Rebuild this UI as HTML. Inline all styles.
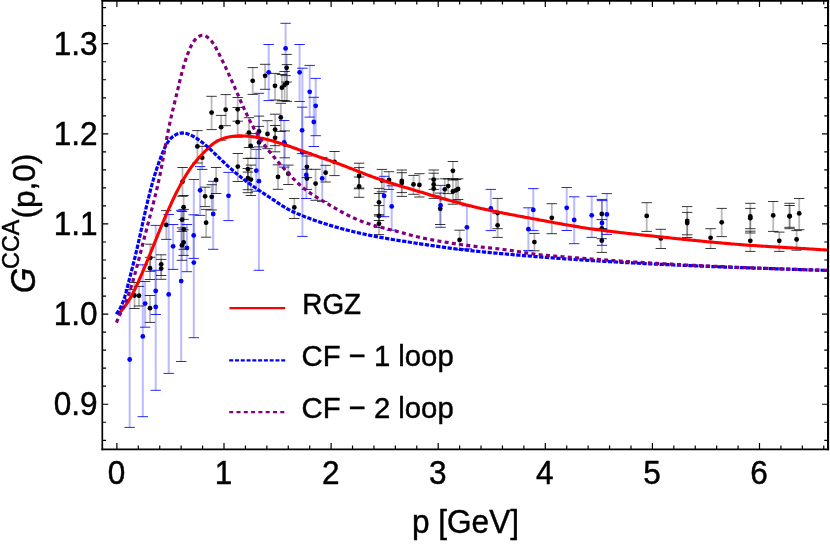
<!DOCTYPE html>
<html><head><meta charset="utf-8"><title>plot</title>
<style>html,body{margin:0;padding:0;background:#fff}svg{display:block}text{font-family:"Liberation Sans",sans-serif;fill:#000;stroke:#000;stroke-width:0.45px;stroke-linejoin:round}</style></head><body>
<div style="width:830px;height:545px;will-change:transform;overflow:hidden">
<svg width="830" height="545" viewBox="0 0 830 545">
<defs><clipPath id="c"><rect x="102.3" y="0" width="725.75" height="449.35"/></clipPath></defs>
<g clip-path="url(#c)">
<g stroke="#000" stroke-opacity="0.28" stroke-width="1.8" fill="none">
<path d="M286.6,54.4V82.0"/>
<path d="M265.1,64.3V89.3"/>
<path d="M252.7,67.6V94.4"/>
<path d="M275.0,73.4V100.0"/>
<path d="M281.9,74.5V100.9"/>
<path d="M284.6,71.5V100.6"/>
<path d="M287.0,64.6V101.4"/>
<path d="M280.8,103.3V131.4"/>
<path d="M249.0,117.7V147.5"/>
<path d="M259.0,116.1V146.9"/>
<path d="M267.5,120.7V148.7"/>
<path d="M275.1,114.2V145.7"/>
<path d="M275.1,125.5V151.8"/>
<path d="M259.0,126.4V158.4"/>
<path d="M250.7,133.6V158.3"/>
<path d="M247.9,158.4V179.8"/>
<path d="M247.9,168.5V189.7"/>
<path d="M250.9,165.1V195.5"/>
<path d="M247.9,172.1V192.7"/>
<path d="M306.9,156.0V177.6"/>
<path d="M325.6,165.3V182.0"/>
<path d="M288.3,165.1V184.5"/>
<path d="M278.0,164.8V189.3"/>
<path d="M284.8,130.9V157.8"/>
<path d="M294.3,198.5V218.5"/>
<path d="M306.9,169.3V189.4"/>
<path d="M315.6,169.3V200.3"/>
<path d="M334.5,151.5V175.6"/>
<path d="M211.6,96.3V129.6"/>
<path d="M225.7,94.6V125.7"/>
<path d="M221.1,115.4V140.2"/>
<path d="M237.7,97.5V121.2"/>
<path d="M237.7,107.5V137.1"/>
<path d="M197.4,130.6V163.0"/>
<path d="M202.2,146.3V169.4"/>
<path d="M182.5,167.5V196.3"/>
<path d="M216.1,167.5V193.5"/>
<path d="M205.1,187.2V206.6"/>
<path d="M211.7,184.7V210.0"/>
<path d="M237.8,153.5V181.5"/>
<path d="M183.6,195.5V219.4"/>
<path d="M206.1,209.4V237.2"/>
<path d="M182.1,211.5V227.9"/>
<path d="M183.7,209.4V249.3"/>
<path d="M183.6,229.8V255.4"/>
<path d="M181.9,231.4V260.3"/>
<path d="M166.3,210.6V239.4"/>
<path d="M161.2,254.8V275.5"/>
<path d="M161.2,259.4V279.3"/>
<path d="M150.0,257.3V279.5"/>
<path d="M150.3,244.2V271.3"/>
<path d="M139.0,286.4V306.0"/>
<path d="M134.5,282.5V308.5"/>
<path d="M150.0,295.5V322.4"/>
<path d="M359.1,163.2V188.8"/>
<path d="M359.1,167.6V188.0"/>
<path d="M359.1,177.0V197.3"/>
<path d="M381.9,169.4V191.8"/>
<path d="M389.0,171.7V189.4"/>
<path d="M379.0,188.4V216.0"/>
<path d="M379.0,193.5V220.5"/>
<path d="M379.0,205.6V227.4"/>
<path d="M379.0,214.7V234.6"/>
<path d="M401.8,172.7V192.6"/>
<path d="M401.8,170.0V196.4"/>
<path d="M413.5,175.4V194.3"/>
<path d="M419.4,173.7V197.0"/>
<path d="M433.7,170.0V189.4"/>
<path d="M433.7,173.2V195.8"/>
<path d="M433.7,179.0V198.4"/>
<path d="M444.8,178.8V199.8"/>
<path d="M448.2,178.8V193.6"/>
<path d="M452.9,161.5V180.0"/>
<path d="M452.9,178.8V204.2"/>
<path d="M456.0,179.5V201.0"/>
<path d="M458.1,178.8V199.5"/>
<path d="M440.2,193.1V224.5"/>
<path d="M459.6,230.2V249.7"/>
<path d="M497.6,198.4V228.7"/>
<path d="M497.6,213.3V237.4"/>
<path d="M534.4,233.4V250.8"/>
<path d="M551.8,203.7V233.7"/>
<path d="M601.8,199.4V228.5"/>
<path d="M601.8,219.6V238.7"/>
<path d="M601.8,229.5V252.4"/>
<path d="M646.7,202.7V231.4"/>
<path d="M660.8,229.3V248.5"/>
<path d="M687.2,206.6V234.8"/>
<path d="M687.2,212.4V237.5"/>
<path d="M710.6,228.7V248.5"/>
<path d="M721.7,208.4V236.6"/>
<path d="M750.3,203.3V228.7"/>
<path d="M750.3,208.4V233.0"/>
<path d="M750.3,231.2V251.4"/>
<path d="M773.2,201.5V231.4"/>
<path d="M779.3,232.1V251.4"/>
<path d="M789.6,203.3V228.7"/>
<path d="M789.6,205.5V227.3"/>
<path d="M799.2,198.5V229.7"/>
<path d="M796.6,230.6V250.2"/>
</g>
<g stroke="#000" stroke-opacity="0.78" stroke-width="1" fill="none">
<path d="M281.4,54.4h10.4M281.4,82.0h10.4"/>
<path d="M259.9,64.3h10.4M259.9,89.3h10.4"/>
<path d="M247.5,67.6h10.4M247.5,94.4h10.4"/>
<path d="M269.8,73.4h10.4M269.8,100.0h10.4"/>
<path d="M276.7,74.5h10.4M276.7,100.9h10.4"/>
<path d="M279.4,71.5h10.4M279.4,100.6h10.4"/>
<path d="M281.8,64.6h10.4M281.8,101.4h10.4"/>
<path d="M275.6,103.3h10.4M275.6,131.4h10.4"/>
<path d="M243.8,117.7h10.4M243.8,147.5h10.4"/>
<path d="M253.8,116.1h10.4M253.8,146.9h10.4"/>
<path d="M262.3,120.7h10.4M262.3,148.7h10.4"/>
<path d="M269.9,114.2h10.4M269.9,145.7h10.4"/>
<path d="M269.9,125.5h10.4M269.9,151.8h10.4"/>
<path d="M253.8,126.4h10.4M253.8,158.4h10.4"/>
<path d="M245.5,133.6h10.4M245.5,158.3h10.4"/>
<path d="M242.7,158.4h10.4M242.7,179.8h10.4"/>
<path d="M242.7,168.5h10.4M242.7,189.7h10.4"/>
<path d="M245.7,165.1h10.4M245.7,195.5h10.4"/>
<path d="M242.7,172.1h10.4M242.7,192.7h10.4"/>
<path d="M301.7,156.0h10.4M301.7,177.6h10.4"/>
<path d="M320.4,165.3h10.4M320.4,182.0h10.4"/>
<path d="M283.1,165.1h10.4M283.1,184.5h10.4"/>
<path d="M272.8,164.8h10.4M272.8,189.3h10.4"/>
<path d="M279.6,130.9h10.4M279.6,157.8h10.4"/>
<path d="M289.1,198.5h10.4M289.1,218.5h10.4"/>
<path d="M301.7,169.3h10.4M301.7,189.4h10.4"/>
<path d="M310.4,169.3h10.4M310.4,200.3h10.4"/>
<path d="M329.3,151.5h10.4M329.3,175.6h10.4"/>
<path d="M206.4,96.3h10.4M206.4,129.6h10.4"/>
<path d="M220.5,94.6h10.4M220.5,125.7h10.4"/>
<path d="M215.9,115.4h10.4M215.9,140.2h10.4"/>
<path d="M232.5,97.5h10.4M232.5,121.2h10.4"/>
<path d="M232.5,107.5h10.4M232.5,137.1h10.4"/>
<path d="M192.2,130.6h10.4M192.2,163.0h10.4"/>
<path d="M197.0,146.3h10.4M197.0,169.4h10.4"/>
<path d="M177.3,167.5h10.4M177.3,196.3h10.4"/>
<path d="M210.9,167.5h10.4M210.9,193.5h10.4"/>
<path d="M199.9,187.2h10.4M199.9,206.6h10.4"/>
<path d="M206.5,184.7h10.4M206.5,210.0h10.4"/>
<path d="M232.6,153.5h10.4M232.6,181.5h10.4"/>
<path d="M178.4,195.5h10.4M178.4,219.4h10.4"/>
<path d="M200.9,209.4h10.4M200.9,237.2h10.4"/>
<path d="M176.9,211.5h10.4M176.9,227.9h10.4"/>
<path d="M178.5,209.4h10.4M178.5,249.3h10.4"/>
<path d="M178.4,229.8h10.4M178.4,255.4h10.4"/>
<path d="M176.7,231.4h10.4M176.7,260.3h10.4"/>
<path d="M161.1,210.6h10.4M161.1,239.4h10.4"/>
<path d="M156.0,254.8h10.4M156.0,275.5h10.4"/>
<path d="M156.0,259.4h10.4M156.0,279.3h10.4"/>
<path d="M144.8,257.3h10.4M144.8,279.5h10.4"/>
<path d="M145.1,244.2h10.4M145.1,271.3h10.4"/>
<path d="M133.8,286.4h10.4M133.8,306.0h10.4"/>
<path d="M129.3,282.5h10.4M129.3,308.5h10.4"/>
<path d="M144.8,295.5h10.4M144.8,322.4h10.4"/>
<path d="M353.9,163.2h10.4M353.9,188.8h10.4"/>
<path d="M353.9,167.6h10.4M353.9,188.0h10.4"/>
<path d="M353.9,177.0h10.4M353.9,197.3h10.4"/>
<path d="M376.7,169.4h10.4M376.7,191.8h10.4"/>
<path d="M383.8,171.7h10.4M383.8,189.4h10.4"/>
<path d="M373.8,188.4h10.4M373.8,216.0h10.4"/>
<path d="M373.8,193.5h10.4M373.8,220.5h10.4"/>
<path d="M373.8,205.6h10.4M373.8,227.4h10.4"/>
<path d="M373.8,214.7h10.4M373.8,234.6h10.4"/>
<path d="M396.6,172.7h10.4M396.6,192.6h10.4"/>
<path d="M396.6,170.0h10.4M396.6,196.4h10.4"/>
<path d="M408.3,175.4h10.4M408.3,194.3h10.4"/>
<path d="M414.2,173.7h10.4M414.2,197.0h10.4"/>
<path d="M428.5,170.0h10.4M428.5,189.4h10.4"/>
<path d="M428.5,173.2h10.4M428.5,195.8h10.4"/>
<path d="M428.5,179.0h10.4M428.5,198.4h10.4"/>
<path d="M439.6,178.8h10.4M439.6,199.8h10.4"/>
<path d="M443.0,178.8h10.4M443.0,193.6h10.4"/>
<path d="M447.7,161.5h10.4M447.7,180.0h10.4"/>
<path d="M447.7,178.8h10.4M447.7,204.2h10.4"/>
<path d="M450.8,179.5h10.4M450.8,201.0h10.4"/>
<path d="M452.9,178.8h10.4M452.9,199.5h10.4"/>
<path d="M435.0,193.1h10.4M435.0,224.5h10.4"/>
<path d="M454.4,230.2h10.4M454.4,249.7h10.4"/>
<path d="M492.4,198.4h10.4M492.4,228.7h10.4"/>
<path d="M492.4,213.3h10.4M492.4,237.4h10.4"/>
<path d="M529.2,233.4h10.4M529.2,250.8h10.4"/>
<path d="M546.6,203.7h10.4M546.6,233.7h10.4"/>
<path d="M596.6,199.4h10.4M596.6,228.5h10.4"/>
<path d="M596.6,219.6h10.4M596.6,238.7h10.4"/>
<path d="M596.6,229.5h10.4M596.6,252.4h10.4"/>
<path d="M641.5,202.7h10.4M641.5,231.4h10.4"/>
<path d="M655.6,229.3h10.4M655.6,248.5h10.4"/>
<path d="M682.0,206.6h10.4M682.0,234.8h10.4"/>
<path d="M682.0,212.4h10.4M682.0,237.5h10.4"/>
<path d="M705.4,228.7h10.4M705.4,248.5h10.4"/>
<path d="M716.5,208.4h10.4M716.5,236.6h10.4"/>
<path d="M745.1,203.3h10.4M745.1,228.7h10.4"/>
<path d="M745.1,208.4h10.4M745.1,233.0h10.4"/>
<path d="M745.1,231.2h10.4M745.1,251.4h10.4"/>
<path d="M768.0,201.5h10.4M768.0,231.4h10.4"/>
<path d="M774.1,232.1h10.4M774.1,251.4h10.4"/>
<path d="M784.4,203.3h10.4M784.4,228.7h10.4"/>
<path d="M784.4,205.5h10.4M784.4,227.3h10.4"/>
<path d="M794.0,198.5h10.4M794.0,229.7h10.4"/>
<path d="M791.4,230.6h10.4M791.4,250.2h10.4"/>
</g>
<g fill="#000">
<circle cx="286.6" cy="67.8" r="2.4"/>
<circle cx="265.1" cy="75.8" r="2.4"/>
<circle cx="252.7" cy="80.8" r="2.4"/>
<circle cx="275.0" cy="85.8" r="2.4"/>
<circle cx="281.9" cy="87.7" r="2.4"/>
<circle cx="284.6" cy="85.0" r="2.4"/>
<circle cx="287.0" cy="83.0" r="2.4"/>
<circle cx="280.8" cy="117.4" r="2.4"/>
<circle cx="249.0" cy="132.6" r="2.4"/>
<circle cx="259.0" cy="131.5" r="2.4"/>
<circle cx="267.5" cy="133.9" r="2.4"/>
<circle cx="275.1" cy="129.6" r="2.4"/>
<circle cx="275.1" cy="137.8" r="2.4"/>
<circle cx="259.0" cy="142.4" r="2.4"/>
<circle cx="250.7" cy="146.0" r="2.4"/>
<circle cx="247.9" cy="169.1" r="2.4"/>
<circle cx="247.9" cy="178.2" r="2.4"/>
<circle cx="250.9" cy="179.6" r="2.4"/>
<circle cx="306.9" cy="166.8" r="2.4"/>
<circle cx="325.6" cy="172.7" r="2.4"/>
<circle cx="288.3" cy="173.7" r="2.4"/>
<circle cx="278.0" cy="176.9" r="2.4"/>
<circle cx="284.8" cy="144.4" r="2.4"/>
<circle cx="294.3" cy="207.4" r="2.4"/>
<circle cx="306.9" cy="178.5" r="2.4"/>
<circle cx="315.6" cy="183.6" r="2.4"/>
<circle cx="334.5" cy="161.8" r="2.4"/>
<circle cx="211.6" cy="112.6" r="2.4"/>
<circle cx="225.7" cy="109.7" r="2.4"/>
<circle cx="221.1" cy="127.2" r="2.4"/>
<circle cx="237.7" cy="109.3" r="2.4"/>
<circle cx="237.7" cy="122.2" r="2.4"/>
<circle cx="197.4" cy="146.4" r="2.4"/>
<circle cx="202.2" cy="157.7" r="2.4"/>
<circle cx="182.5" cy="181.7" r="2.4"/>
<circle cx="216.1" cy="180.0" r="2.4"/>
<circle cx="205.1" cy="196.3" r="2.4"/>
<circle cx="211.7" cy="196.8" r="2.4"/>
<circle cx="237.8" cy="166.6" r="2.4"/>
<circle cx="183.6" cy="207.2" r="2.4"/>
<circle cx="206.1" cy="222.7" r="2.4"/>
<circle cx="182.1" cy="219.7" r="2.4"/>
<circle cx="183.7" cy="229.3" r="2.4"/>
<circle cx="183.6" cy="242.5" r="2.4"/>
<circle cx="181.9" cy="245.4" r="2.4"/>
<circle cx="166.3" cy="224.9" r="2.4"/>
<circle cx="161.2" cy="264.3" r="2.4"/>
<circle cx="161.2" cy="268.6" r="2.4"/>
<circle cx="150.0" cy="268.2" r="2.4"/>
<circle cx="150.3" cy="257.8" r="2.4"/>
<circle cx="139.0" cy="295.7" r="2.4"/>
<circle cx="134.5" cy="295.5" r="2.4"/>
<circle cx="150.0" cy="308.2" r="2.4"/>
<circle cx="359.1" cy="176.0" r="2.4"/>
<circle cx="359.1" cy="186.4" r="2.4"/>
<circle cx="381.9" cy="180.6" r="2.4"/>
<circle cx="389.0" cy="180.0" r="2.4"/>
<circle cx="379.0" cy="202.3" r="2.4"/>
<circle cx="379.0" cy="215.9" r="2.4"/>
<circle cx="379.0" cy="223.7" r="2.4"/>
<circle cx="401.8" cy="181.0" r="2.4"/>
<circle cx="401.8" cy="183.0" r="2.4"/>
<circle cx="413.5" cy="184.4" r="2.4"/>
<circle cx="419.4" cy="184.9" r="2.4"/>
<circle cx="433.7" cy="179.7" r="2.4"/>
<circle cx="433.7" cy="184.5" r="2.4"/>
<circle cx="433.7" cy="188.7" r="2.4"/>
<circle cx="444.8" cy="189.3" r="2.4"/>
<circle cx="448.2" cy="186.1" r="2.4"/>
<circle cx="452.9" cy="170.8" r="2.4"/>
<circle cx="452.9" cy="191.5" r="2.4"/>
<circle cx="456.0" cy="190.3" r="2.4"/>
<circle cx="458.1" cy="189.0" r="2.4"/>
<circle cx="440.2" cy="208.8" r="2.4"/>
<circle cx="459.6" cy="239.9" r="2.4"/>
<circle cx="497.6" cy="213.0" r="2.4"/>
<circle cx="497.6" cy="225.3" r="2.4"/>
<circle cx="534.4" cy="242.1" r="2.4"/>
<circle cx="551.8" cy="217.8" r="2.4"/>
<circle cx="601.8" cy="214.0" r="2.4"/>
<circle cx="601.8" cy="228.3" r="2.4"/>
<circle cx="601.8" cy="240.7" r="2.4"/>
<circle cx="646.7" cy="215.9" r="2.4"/>
<circle cx="660.8" cy="238.4" r="2.4"/>
<circle cx="687.2" cy="221.0" r="2.4"/>
<circle cx="687.2" cy="223.0" r="2.4"/>
<circle cx="710.6" cy="237.8" r="2.4"/>
<circle cx="721.7" cy="222.3" r="2.4"/>
<circle cx="750.3" cy="216.4" r="2.4"/>
<circle cx="750.3" cy="218.2" r="2.4"/>
<circle cx="750.3" cy="240.8" r="2.4"/>
<circle cx="773.2" cy="215.4" r="2.4"/>
<circle cx="779.3" cy="240.8" r="2.4"/>
<circle cx="789.6" cy="216.0" r="2.4"/>
<circle cx="789.6" cy="216.3" r="2.4"/>
<circle cx="799.2" cy="213.4" r="2.4"/>
<circle cx="796.6" cy="239.4" r="2.4"/>
</g>
<g stroke="#0000ff" stroke-opacity="0.27" stroke-width="2.0" fill="none">
<path d="M129.7,289.6V427.4"/>
<path d="M142.8,264.8V416.7"/>
<path d="M145.1,281.5V327.2"/>
<path d="M155.7,270.3V314.5"/>
<path d="M155.7,225.4V390.3"/>
<path d="M168.7,214.5V373.4"/>
<path d="M173.1,224.5V269.4"/>
<path d="M181.2,210.3V361.5"/>
<path d="M186.9,224.5V271.7"/>
<path d="M193.7,214.8V258.4"/>
<path d="M193.8,179.5V337.7"/>
<path d="M200.1,166.6V215.4"/>
<path d="M213.2,181.3V249.3"/>
<path d="M228.5,172.4V220.6"/>
<path d="M256.3,149.3V191.2"/>
<path d="M258.9,93.3V270.3"/>
<path d="M268.7,44.5V100.6"/>
<path d="M284.2,120.5V167.1"/>
<path d="M285.6,23.3V75.6"/>
<path d="M299.6,44.5V101.5"/>
<path d="M302.1,107.2V153.6"/>
<path d="M302.4,68.2V236.4"/>
<path d="M306.3,152.5V198.5"/>
<path d="M309.7,65.4V117.1"/>
<path d="M313.8,97.3V146.5"/>
<path d="M315.7,78.4V135.7"/>
<path d="M322.2,157.5V201.4"/>
<path d="M384.1,176.3V216.7"/>
<path d="M391.7,185.8V230.2"/>
<path d="M440.6,185.4V227.3"/>
<path d="M466.9,205.8V248.8"/>
<path d="M490.8,189.4V230.6"/>
<path d="M528.4,207.8V250.6"/>
<path d="M533.3,188.6V230.6"/>
<path d="M566.7,187.5V230.5"/>
<path d="M574.2,196.8V243.7"/>
<path d="M591.7,196.3V237.4"/>
<path d="M606.9,193.6V234.4"/>
<path d="M602.0,200.6V245.3"/>
</g>
<g stroke="#0000ff" stroke-opacity="0.85" stroke-width="1" fill="none">
<path d="M124.5,289.6h10.4M124.5,427.4h10.4"/>
<path d="M137.6,264.8h10.4M137.6,416.7h10.4"/>
<path d="M139.9,281.5h10.4M139.9,327.2h10.4"/>
<path d="M150.5,270.3h10.4M150.5,314.5h10.4"/>
<path d="M150.5,225.4h10.4M150.5,390.3h10.4"/>
<path d="M163.5,214.5h10.4M163.5,373.4h10.4"/>
<path d="M167.9,224.5h10.4M167.9,269.4h10.4"/>
<path d="M176.0,210.3h10.4M176.0,361.5h10.4"/>
<path d="M181.7,224.5h10.4M181.7,271.7h10.4"/>
<path d="M188.5,214.8h10.4M188.5,258.4h10.4"/>
<path d="M188.6,179.5h10.4M188.6,337.7h10.4"/>
<path d="M194.9,166.6h10.4M194.9,215.4h10.4"/>
<path d="M208.0,181.3h10.4M208.0,249.3h10.4"/>
<path d="M223.3,172.4h10.4M223.3,220.6h10.4"/>
<path d="M251.1,149.3h10.4M251.1,191.2h10.4"/>
<path d="M253.7,93.3h10.4M253.7,270.3h10.4"/>
<path d="M263.5,44.5h10.4M263.5,100.6h10.4"/>
<path d="M279.0,120.5h10.4M279.0,167.1h10.4"/>
<path d="M280.4,23.3h10.4M280.4,75.6h10.4"/>
<path d="M294.4,44.5h10.4M294.4,101.5h10.4"/>
<path d="M296.9,107.2h10.4M296.9,153.6h10.4"/>
<path d="M297.2,68.2h10.4M297.2,236.4h10.4"/>
<path d="M301.1,152.5h10.4M301.1,198.5h10.4"/>
<path d="M304.5,65.4h10.4M304.5,117.1h10.4"/>
<path d="M308.6,97.3h10.4M308.6,146.5h10.4"/>
<path d="M310.5,78.4h10.4M310.5,135.7h10.4"/>
<path d="M317.0,157.5h10.4M317.0,201.4h10.4"/>
<path d="M378.9,176.3h10.4M378.9,216.7h10.4"/>
<path d="M386.5,185.8h10.4M386.5,230.2h10.4"/>
<path d="M435.4,185.4h10.4M435.4,227.3h10.4"/>
<path d="M461.7,205.8h10.4M461.7,248.8h10.4"/>
<path d="M485.6,189.4h10.4M485.6,230.6h10.4"/>
<path d="M523.2,207.8h10.4M523.2,250.6h10.4"/>
<path d="M528.1,188.6h10.4M528.1,230.6h10.4"/>
<path d="M561.5,187.5h10.4M561.5,230.5h10.4"/>
<path d="M569.0,196.8h10.4M569.0,243.7h10.4"/>
<path d="M586.5,196.3h10.4M586.5,237.4h10.4"/>
<path d="M601.7,193.6h10.4M601.7,234.4h10.4"/>
<path d="M596.8,200.6h10.4M596.8,245.3h10.4"/>
</g>
<g fill="#0000ff">
<circle cx="129.7" cy="359.5" r="2.4"/>
<circle cx="142.8" cy="336.4" r="2.4"/>
<circle cx="145.1" cy="303.6" r="2.4"/>
<circle cx="155.7" cy="290.9" r="2.4"/>
<circle cx="155.7" cy="306.9" r="2.4"/>
<circle cx="168.7" cy="294.4" r="2.4"/>
<circle cx="173.1" cy="246.3" r="2.4"/>
<circle cx="181.2" cy="281.1" r="2.4"/>
<circle cx="186.9" cy="247.9" r="2.4"/>
<circle cx="193.7" cy="235.4" r="2.4"/>
<circle cx="193.8" cy="262.6" r="2.4"/>
<circle cx="200.1" cy="190.3" r="2.4"/>
<circle cx="213.2" cy="214.0" r="2.4"/>
<circle cx="228.5" cy="195.8" r="2.4"/>
<circle cx="256.3" cy="170.6" r="2.4"/>
<circle cx="258.9" cy="181.2" r="2.4"/>
<circle cx="268.7" cy="72.3" r="2.4"/>
<circle cx="284.2" cy="142.5" r="2.4"/>
<circle cx="285.6" cy="48.4" r="2.4"/>
<circle cx="299.6" cy="72.3" r="2.4"/>
<circle cx="302.1" cy="130.3" r="2.4"/>
<circle cx="302.4" cy="152.4" r="2.4"/>
<circle cx="306.3" cy="174.9" r="2.4"/>
<circle cx="309.7" cy="91.8" r="2.4"/>
<circle cx="313.8" cy="122.0" r="2.4"/>
<circle cx="315.7" cy="105.8" r="2.4"/>
<circle cx="322.2" cy="178.4" r="2.4"/>
<circle cx="384.1" cy="195.9" r="2.4"/>
<circle cx="391.7" cy="206.4" r="2.4"/>
<circle cx="440.6" cy="205.4" r="2.4"/>
<circle cx="466.9" cy="227.3" r="2.4"/>
<circle cx="490.8" cy="208.5" r="2.4"/>
<circle cx="528.4" cy="229.2" r="2.4"/>
<circle cx="533.3" cy="209.9" r="2.4"/>
<circle cx="566.7" cy="207.8" r="2.4"/>
<circle cx="574.2" cy="219.9" r="2.4"/>
<circle cx="591.7" cy="215.3" r="2.4"/>
<circle cx="606.9" cy="214.4" r="2.4"/>
<circle cx="602.0" cy="222.9" r="2.4"/>
</g>
<path d="M118.08,314.12 L119.27,312.94 L120.42,311.73 L121.54,310.49 L122.61,309.23 L123.66,307.94 L124.67,306.63 L125.64,305.30 L126.59,303.95 L127.51,302.58 L128.40,301.20 L129.27,299.79 L130.11,298.37 L130.93,296.93 L131.73,295.48 L132.51,294.02 L133.27,292.55 L134.01,291.06 L134.75,289.57 L135.46,288.07 L136.17,286.57 L136.87,285.06 L137.56,283.54 L138.24,282.02 L138.91,280.50 L139.58,278.98 L140.25,277.46 L140.92,275.93 L141.58,274.41 L142.23,272.88 L142.88,271.35 L143.53,269.82 L144.18,268.29 L144.82,266.76 L145.46,265.23 L146.10,263.70 L146.73,262.17 L147.37,260.64 L148.00,259.10 L148.63,257.57 L149.25,256.03 L149.88,254.50 L150.50,252.96 L151.13,251.43 L151.75,249.89 L152.37,248.35 L152.99,246.82 L153.61,245.28 L154.23,243.75 L154.85,242.21 L155.47,240.67 L156.09,239.14 L156.71,237.60 L157.33,236.06 L157.96,234.53 L158.58,232.99 L159.20,231.46 L159.83,229.92 L160.46,228.39 L161.09,226.86 L161.72,225.33 L162.36,223.79 L163.00,222.26 L163.64,220.74 L164.28,219.21 L164.93,217.68 L165.58,216.16 L166.23,214.63 L166.89,213.11 L167.56,211.59 L168.22,210.08 L168.90,208.56 L169.57,207.05 L170.26,205.54 L170.95,204.03 L171.64,202.52 L172.34,201.02 L173.05,199.52 L173.76,198.02 L174.48,196.52 L175.21,195.03 L175.94,193.54 L176.69,192.06 L177.43,190.57 L178.19,189.09 L178.96,187.62 L179.73,186.15 L180.52,184.68 L181.31,183.22 L182.12,181.77 L182.94,180.32 L183.76,178.89 L184.61,177.46 L185.46,176.03 L186.33,174.62 L187.22,173.22 L188.11,171.83 L189.03,170.45 L189.96,169.08 L190.91,167.73 L191.88,166.39 L192.86,165.06 L193.86,163.74 L194.88,162.45 L195.93,161.16 L196.99,159.90 L198.07,158.64 L199.18,157.41 L200.30,156.19 L201.43,154.98 L202.58,153.78 L203.74,152.59 L204.92,151.40 L206.10,150.23 L207.29,149.06 L208.49,147.89 L209.70,146.74 L210.93,145.62 L212.20,144.54 L213.50,143.52 L214.85,142.56 L216.26,141.68 L217.70,140.86 L219.19,140.12 L220.70,139.45 L222.24,138.84 L223.80,138.30 L225.37,137.82 L226.96,137.40 L228.57,137.03 L230.19,136.72 L231.82,136.46 L233.46,136.26 L235.11,136.10 L236.76,135.99 L238.42,135.92 L240.09,135.89 L241.76,135.90 L243.43,135.94 L245.10,136.02 L246.77,136.13 L248.43,136.28 L250.10,136.44 L251.75,136.64 L253.40,136.85 L255.05,137.09 L256.69,137.36 L258.32,137.64 L259.95,137.94 L261.58,138.26 L263.20,138.61 L264.81,138.97 L266.42,139.34 L268.03,139.74 L269.63,140.15 L271.23,140.57 L272.82,141.01 L274.41,141.46 L276.00,141.93 L277.58,142.41 L279.16,142.90 L280.74,143.40 L282.32,143.91 L283.89,144.42 L285.46,144.95 L287.03,145.49 L288.60,146.03 L290.17,146.57 L291.73,147.13 L293.30,147.68 L294.86,148.24 L296.42,148.81 L297.98,149.37 L299.55,149.94 L301.11,150.51 L302.67,151.08 L304.23,151.64 L305.79,152.21 L307.35,152.77 L308.92,153.33 L310.48,153.89 L312.04,154.44 L313.61,154.99 L315.18,155.54 L316.74,156.08 L318.31,156.62 L319.88,157.16 L321.44,157.70 L323.01,158.24 L324.58,158.78 L326.14,159.32 L327.71,159.87 L329.27,160.41 L330.84,160.96 L332.40,161.52 L333.96,162.07 L335.52,162.64 L337.07,163.20 L338.63,163.78 L340.18,164.36 L341.73,164.95 L343.28,165.54 L344.83,166.13 L346.38,166.74 L347.92,167.34 L349.46,167.95 L351.01,168.56 L352.55,169.17 L354.09,169.78 L355.64,170.39 L357.18,171.00 L358.73,171.61 L360.27,172.22 L361.82,172.82 L363.36,173.42 L364.91,174.01 L366.46,174.60 L368.02,175.18 L369.57,175.76 L371.13,176.33 L372.69,176.89 L374.25,177.45 L375.81,178.00 L377.38,178.55 L378.95,179.09 L380.52,179.63 L382.09,180.16 L383.66,180.68 L385.23,181.20 L386.81,181.72 L388.39,182.23 L389.97,182.74 L391.55,183.24 L393.13,183.74 L394.71,184.24 L396.29,184.73 L397.88,185.22 L399.46,185.71 L401.05,186.19 L402.64,186.68 L404.22,187.16 L405.81,187.64 L407.40,188.11 L408.99,188.59 L410.58,189.06 L412.17,189.53 L413.76,190.00 L415.35,190.47 L416.95,190.94 L418.54,191.41 L420.13,191.88 L421.72,192.35 L423.31,192.82 L424.90,193.29 L426.49,193.75 L428.09,194.22 L429.68,194.69 L431.27,195.15 L432.86,195.62 L434.46,196.08 L436.05,196.55 L437.64,197.01 L439.24,197.47 L440.83,197.92 L442.42,198.38 L444.02,198.83 L445.62,199.28 L447.21,199.73 L448.81,200.18 L450.41,200.63 L452.00,201.07 L453.60,201.51 L455.20,201.94 L456.80,202.38 L458.40,202.81 L460.01,203.23 L461.61,203.65 L463.21,204.07 L464.82,204.49 L466.42,204.90 L468.03,205.31 L469.64,205.71 L471.24,206.11 L472.85,206.50 L474.47,206.89 L476.08,207.28 L477.69,207.66 L479.31,208.03 L480.92,208.41 L482.54,208.77 L484.16,209.13 L485.78,209.49 L487.40,209.84 L489.02,210.19 L490.64,210.53 L492.26,210.87 L493.89,211.21 L495.51,211.55 L497.14,211.88 L498.76,212.20 L500.39,212.53 L502.02,212.85 L503.65,213.17 L505.28,213.49 L506.91,213.80 L508.54,214.12 L510.17,214.43 L511.80,214.74 L513.43,215.05 L515.06,215.35 L516.69,215.66 L518.32,215.97 L519.95,216.27 L521.59,216.57 L523.22,216.88 L524.85,217.18 L526.48,217.49 L528.11,217.79 L529.74,218.09 L531.38,218.40 L533.01,218.70 L534.64,219.01 L536.27,219.31 L537.90,219.62 L539.53,219.92 L541.16,220.23 L542.79,220.53 L544.42,220.84 L546.05,221.14 L547.69,221.44 L549.32,221.75 L550.95,222.05 L552.58,222.35 L554.21,222.65 L555.84,222.94 L557.47,223.24 L559.10,223.54 L560.74,223.83 L562.37,224.12 L564.00,224.41 L565.63,224.70 L567.27,224.98 L568.90,225.26 L570.53,225.54 L572.17,225.82 L573.80,226.10 L575.44,226.37 L577.07,226.64 L578.71,226.90 L580.35,227.17 L581.98,227.43 L583.62,227.68 L585.26,227.94 L586.90,228.19 L588.54,228.43 L590.18,228.67 L591.82,228.91 L593.46,229.15 L595.10,229.38 L596.74,229.60 L598.39,229.83 L600.03,230.05 L601.67,230.27 L603.32,230.48 L604.96,230.69 L606.61,230.90 L608.26,231.11 L609.90,231.31 L611.55,231.51 L613.19,231.71 L614.84,231.91 L616.49,232.10 L618.14,232.30 L619.79,232.49 L621.43,232.68 L623.08,232.86 L624.73,233.05 L626.38,233.23 L628.03,233.42 L629.68,233.60 L631.33,233.78 L632.98,233.96 L634.63,234.14 L636.28,234.31 L637.93,234.49 L639.58,234.67 L641.23,234.84 L642.88,235.02 L644.53,235.19 L646.18,235.37 L647.83,235.54 L649.48,235.72 L651.13,235.89 L652.78,236.07 L654.43,236.24 L656.08,236.42 L657.73,236.59 L659.38,236.77 L661.03,236.94 L662.68,237.12 L664.33,237.29 L665.98,237.47 L667.63,237.64 L669.28,237.82 L670.93,237.99 L672.58,238.17 L674.23,238.34 L675.87,238.51 L677.52,238.69 L679.17,238.86 L680.82,239.03 L682.47,239.20 L684.12,239.37 L685.77,239.54 L687.42,239.71 L689.07,239.88 L690.72,240.05 L692.37,240.22 L694.02,240.38 L695.67,240.55 L697.32,240.71 L698.97,240.88 L700.62,241.04 L702.27,241.20 L703.92,241.36 L705.57,241.52 L707.22,241.68 L708.87,241.84 L710.52,242.00 L712.17,242.15 L713.82,242.31 L715.47,242.46 L717.12,242.61 L718.78,242.76 L720.43,242.91 L722.08,243.06 L723.73,243.21 L725.38,243.35 L727.03,243.50 L728.69,243.64 L730.34,243.78 L731.99,243.92 L733.64,244.06 L735.29,244.19 L736.95,244.33 L738.60,244.46 L740.25,244.59 L741.91,244.72 L743.56,244.84 L745.21,244.97 L746.87,245.09 L748.52,245.21 L750.18,245.33 L751.83,245.45 L753.49,245.56 L755.14,245.67 L756.80,245.79 L758.45,245.90 L760.11,246.00 L761.76,246.11 L763.42,246.21 L765.08,246.32 L766.73,246.42 L768.39,246.52 L770.05,246.62 L771.70,246.72 L773.36,246.82 L775.02,246.92 L776.67,247.01 L778.33,247.11 L779.99,247.21 L781.64,247.30 L783.30,247.40 L784.96,247.49 L786.61,247.59 L788.27,247.68 L789.93,247.78 L791.58,247.87 L793.24,247.97 L794.90,248.06 L796.55,248.16 L798.21,248.25 L799.86,248.35 L801.52,248.45 L803.18,248.54 L804.83,248.64 L806.49,248.74 L808.14,248.84 L809.80,248.94 L811.45,249.05 L813.11,249.15 L814.76,249.25 L816.42,249.36 L818.07,249.47 L819.73,249.58 L821.38,249.69 L823.03,249.80 L824.69,249.92 L826.34,250.04 L827.99,250.15" fill="none" stroke="#ff0000" stroke-width="3.1"/>
<path d="M116.23,314.16 L117.30,312.72 L118.30,311.25 L119.23,309.75 L120.10,308.22 L120.90,306.67 L121.65,305.09 L122.35,303.50 L123.00,301.89 L123.60,300.25 L124.17,298.61 L124.71,296.95 L125.21,295.27 L125.70,293.59 L126.16,291.90 L126.61,290.20 L127.04,288.50 L127.47,286.79 L127.90,285.08 L128.33,283.38 L128.76,281.67 L129.19,279.96 L129.63,278.26 L130.07,276.55 L130.50,274.85 L130.94,273.14 L131.38,271.44 L131.82,269.73 L132.25,268.03 L132.69,266.32 L133.12,264.62 L133.55,262.91 L133.98,261.21 L134.41,259.50 L134.83,257.79 L135.25,256.09 L135.66,254.38 L136.07,252.67 L136.48,250.96 L136.88,249.25 L137.27,247.55 L137.67,245.84 L138.06,244.13 L138.44,242.42 L138.83,240.70 L139.21,238.99 L139.59,237.28 L139.97,235.57 L140.34,233.86 L140.72,232.15 L141.09,230.44 L141.47,228.73 L141.84,227.02 L142.22,225.31 L142.59,223.60 L142.97,221.89 L143.34,220.18 L143.72,218.47 L144.10,216.76 L144.48,215.05 L144.86,213.35 L145.25,211.64 L145.64,209.93 L146.03,208.23 L146.42,206.52 L146.82,204.82 L147.22,203.11 L147.63,201.41 L148.04,199.71 L148.46,198.01 L148.88,196.31 L149.30,194.61 L149.74,192.91 L150.18,191.22 L150.62,189.52 L151.07,187.83 L151.53,186.14 L152.00,184.44 L152.47,182.76 L152.95,181.07 L153.44,179.38 L153.94,177.70 L154.45,176.01 L154.96,174.33 L155.49,172.65 L156.02,170.97 L156.57,169.29 L157.12,167.62 L157.69,165.95 L158.27,164.28 L158.86,162.61 L159.46,160.94 L160.07,159.28 L160.69,157.61 L161.33,155.95 L161.98,154.29 L162.64,152.64 L163.32,150.99 L164.02,149.35 L164.75,147.73 L165.53,146.14 L166.36,144.59 L167.24,143.09 L168.20,141.64 L169.24,140.26 L170.36,138.95 L171.58,137.72 L172.90,136.59 L174.34,135.55 L175.88,134.64 L177.48,133.89 L179.13,133.35 L180.79,133.04 L182.46,132.95 L184.13,133.06 L185.80,133.35 L187.46,133.79 L189.11,134.37 L190.74,135.07 L192.35,135.86 L193.93,136.73 L195.48,137.65 L197.00,138.61 L198.48,139.61 L199.92,140.63 L201.34,141.68 L202.74,142.76 L204.10,143.86 L205.45,144.99 L206.77,146.13 L208.08,147.29 L209.37,148.47 L210.65,149.66 L211.92,150.86 L213.19,152.07 L214.44,153.28 L215.70,154.50 L216.95,155.72 L218.21,156.95 L219.46,158.16 L220.73,159.38 L222.00,160.59 L223.28,161.79 L224.56,162.99 L225.85,164.19 L227.15,165.37 L228.45,166.56 L229.76,167.73 L231.07,168.90 L232.40,170.06 L233.72,171.21 L235.06,172.35 L236.40,173.49 L237.76,174.61 L239.11,175.73 L240.48,176.84 L241.85,177.93 L243.23,179.02 L244.62,180.09 L246.01,181.16 L247.42,182.21 L248.83,183.25 L250.25,184.28 L251.67,185.29 L253.11,186.30 L254.55,187.30 L255.99,188.29 L257.44,189.27 L258.89,190.25 L260.35,191.22 L261.81,192.19 L263.27,193.16 L264.73,194.12 L266.20,195.09 L267.66,196.05 L269.13,197.02 L270.59,197.99 L272.05,198.96 L273.51,199.94 L274.97,200.92 L276.43,201.91 L277.89,202.89 L279.35,203.87 L280.82,204.84 L282.30,205.79 L283.78,206.72 L285.28,207.63 L286.80,208.51 L288.33,209.36 L289.88,210.17 L291.44,210.96 L293.02,211.72 L294.61,212.46 L296.21,213.18 L297.82,213.88 L299.44,214.56 L301.07,215.22 L302.70,215.87 L304.34,216.51 L305.98,217.14 L307.62,217.76 L309.27,218.37 L310.92,218.98 L312.57,219.57 L314.23,220.16 L315.88,220.74 L317.54,221.32 L319.20,221.88 L320.87,222.44 L322.54,222.98 L324.21,223.52 L325.88,224.06 L327.55,224.58 L329.23,225.10 L330.91,225.61 L332.59,226.11 L334.28,226.61 L335.96,227.09 L337.65,227.57 L339.34,228.05 L341.03,228.51 L342.73,228.97 L344.42,229.42 L346.12,229.86 L347.82,230.30 L349.52,230.73 L351.22,231.15 L352.93,231.57 L354.63,231.98 L356.34,232.38 L358.05,232.77 L359.76,233.16 L361.47,233.54 L363.19,233.92 L364.90,234.28 L366.62,234.65 L368.34,235.00 L370.06,235.35 L371.78,235.70 L373.50,236.04 L375.22,236.37 L376.94,236.70 L378.67,237.02 L380.39,237.34 L382.12,237.66 L383.85,237.97 L385.58,238.28 L387.31,238.58 L389.03,238.88 L390.76,239.17 L392.50,239.47 L394.23,239.75 L395.96,240.04 L397.69,240.32 L399.42,240.60 L401.16,240.88 L402.89,241.16 L404.63,241.43 L406.36,241.70 L408.09,241.97 L409.83,242.24 L411.56,242.51 L413.30,242.78 L415.03,243.04 L416.77,243.31 L418.50,243.57 L420.24,243.83 L421.97,244.10 L423.71,244.36 L425.44,244.62 L427.18,244.88 L428.91,245.14 L430.65,245.40 L432.38,245.66 L434.12,245.91 L435.85,246.16 L437.59,246.41 L439.33,246.66 L441.06,246.91 L442.80,247.15 L444.54,247.39 L446.27,247.63 L448.01,247.86 L449.75,248.10 L451.49,248.32 L453.23,248.55 L454.97,248.77 L456.71,248.99 L458.45,249.20 L460.19,249.41 L461.93,249.62 L463.68,249.82 L465.42,250.02 L467.16,250.22 L468.91,250.41 L470.65,250.60 L472.40,250.79 L474.14,250.97 L475.89,251.16 L477.63,251.34 L479.38,251.52 L481.13,251.69 L482.87,251.87 L484.62,252.04 L486.37,252.21 L488.11,252.38 L489.86,252.55 L491.61,252.72 L493.36,252.88 L495.10,253.05 L496.85,253.21 L498.60,253.38 L500.35,253.54 L502.10,253.70 L503.84,253.86 L505.59,254.01 L507.34,254.17 L509.09,254.33 L510.84,254.48 L512.59,254.64 L514.33,254.79 L516.08,254.94 L517.83,255.09 L519.58,255.24 L521.33,255.39 L523.08,255.54 L524.83,255.68 L526.57,255.83 L528.32,255.97 L530.07,256.12 L531.82,256.26 L533.57,256.40 L535.32,256.54 L537.07,256.68 L538.82,256.82 L540.57,256.96 L542.32,257.09 L544.07,257.23 L545.82,257.36 L547.57,257.50 L549.32,257.63 L551.07,257.76 L552.82,257.89 L554.57,258.02 L556.32,258.15 L558.07,258.28 L559.82,258.40 L561.57,258.53 L563.32,258.65 L565.07,258.78 L566.82,258.90 L568.57,259.02 L570.32,259.15 L572.07,259.27 L573.82,259.39 L575.57,259.51 L577.32,259.62 L579.07,259.74 L580.82,259.86 L582.57,259.97 L584.32,260.09 L586.07,260.20 L587.82,260.31 L589.58,260.43 L591.33,260.54 L593.08,260.65 L594.83,260.76 L596.58,260.87 L598.33,260.98 L600.08,261.08 L601.83,261.19 L603.59,261.29 L605.34,261.40 L607.09,261.50 L608.84,261.61 L610.59,261.71 L612.34,261.81 L614.09,261.91 L615.85,262.01 L617.60,262.11 L619.35,262.21 L621.10,262.31 L622.85,262.41 L624.61,262.51 L626.36,262.60 L628.11,262.70 L629.86,262.79 L631.61,262.89 L633.37,262.98 L635.12,263.07 L636.87,263.16 L638.62,263.26 L640.37,263.35 L642.13,263.44 L643.88,263.53 L645.63,263.61 L647.38,263.70 L649.14,263.79 L650.89,263.88 L652.64,263.96 L654.39,264.05 L656.15,264.13 L657.90,264.22 L659.65,264.30 L661.41,264.39 L663.16,264.47 L664.91,264.55 L666.66,264.63 L668.42,264.71 L670.17,264.79 L671.92,264.87 L673.67,264.95 L675.43,265.03 L677.18,265.11 L678.93,265.19 L680.69,265.26 L682.44,265.34 L684.19,265.42 L685.95,265.49 L687.70,265.57 L689.45,265.64 L691.21,265.72 L692.96,265.79 L694.71,265.86 L696.47,265.93 L698.22,266.01 L699.97,266.08 L701.73,266.15 L703.48,266.22 L705.23,266.29 L706.99,266.36 L708.74,266.43 L710.49,266.50 L712.25,266.57 L714.00,266.64 L715.75,266.70 L717.51,266.77 L719.26,266.84 L721.01,266.90 L722.77,266.97 L724.52,267.04 L726.27,267.10 L728.03,267.17 L729.78,267.23 L731.54,267.29 L733.29,267.36 L735.04,267.42 L736.80,267.48 L738.55,267.55 L740.30,267.61 L742.06,267.67 L743.81,267.73 L745.57,267.79 L747.32,267.86 L749.07,267.92 L750.83,267.98 L752.58,268.04 L754.33,268.10 L756.09,268.16 L757.84,268.22 L759.60,268.27 L761.35,268.33 L763.10,268.39 L764.86,268.45 L766.61,268.51 L768.37,268.57 L770.12,268.62 L771.87,268.68 L773.63,268.74 L775.38,268.79 L777.14,268.85 L778.89,268.91 L780.64,268.96 L782.40,269.02 L784.15,269.07 L785.91,269.13 L787.66,269.19 L789.41,269.24 L791.17,269.30 L792.92,269.35 L794.67,269.41 L796.43,269.46 L798.18,269.51 L799.94,269.57 L801.69,269.62 L803.44,269.68 L805.20,269.73 L806.95,269.78 L808.71,269.84 L810.46,269.89 L812.21,269.94 L813.97,270.00 L815.72,270.05 L817.48,270.10 L819.23,270.16 L820.98,270.21 L822.74,270.26 L824.49,270.32 L826.25,270.37 L828.00,270.42" fill="none" stroke="#0000ff" stroke-width="3.2" stroke-dasharray="4.3 1.45"/>
<path d="M116.46,322.58 L117.23,320.68 L118.04,318.78 L118.87,316.90 L119.71,315.03 L120.57,313.16 L121.44,311.29 L122.31,309.43 L123.17,307.56 L124.03,305.69 L124.86,303.81 L125.68,301.92 L126.46,300.02 L127.22,298.11 L127.94,296.19 L128.64,294.25 L129.32,292.31 L129.98,290.36 L130.62,288.40 L131.24,286.43 L131.85,284.46 L132.44,282.49 L133.03,280.52 L133.61,278.54 L134.18,276.56 L134.74,274.58 L135.30,272.60 L135.84,270.62 L136.39,268.63 L136.92,266.65 L137.45,264.66 L137.98,262.67 L138.50,260.68 L139.02,258.69 L139.54,256.70 L140.05,254.70 L140.56,252.71 L141.07,250.72 L141.57,248.72 L142.08,246.73 L142.59,244.73 L143.10,242.74 L143.60,240.75 L144.11,238.75 L144.62,236.76 L145.14,234.76 L145.65,232.77 L146.17,230.78 L146.69,228.79 L147.21,226.80 L147.74,224.81 L148.26,222.82 L148.79,220.83 L149.31,218.84 L149.83,216.85 L150.36,214.85 L150.88,212.86 L151.40,210.87 L151.92,208.88 L152.43,206.89 L152.94,204.89 L153.45,202.90 L153.96,200.91 L154.46,198.91 L154.95,196.91 L155.44,194.91 L155.93,192.91 L156.41,190.91 L156.88,188.91 L157.35,186.91 L157.81,184.90 L158.26,182.90 L158.70,180.89 L159.14,178.88 L159.56,176.86 L159.98,174.85 L160.39,172.83 L160.79,170.81 L161.19,168.79 L161.57,166.77 L161.96,164.75 L162.33,162.73 L162.71,160.70 L163.08,158.67 L163.45,156.65 L163.81,154.62 L164.18,152.60 L164.54,150.57 L164.90,148.54 L165.27,146.52 L165.63,144.49 L166.00,142.47 L166.38,140.44 L166.75,138.42 L167.13,136.40 L167.52,134.37 L167.91,132.35 L168.31,130.34 L168.71,128.32 L169.12,126.31 L169.55,124.29 L169.98,122.28 L170.42,120.28 L170.87,118.27 L171.33,116.27 L171.79,114.26 L172.26,112.26 L172.73,110.26 L173.21,108.26 L173.70,106.26 L174.18,104.26 L174.67,102.27 L175.16,100.27 L175.65,98.27 L176.14,96.26 L176.63,94.26 L177.12,92.26 L177.61,90.26 L178.09,88.25 L178.57,86.24 L179.05,84.23 L179.53,82.22 L180.01,80.21 L180.49,78.21 L180.99,76.21 L181.49,74.21 L182.00,72.22 L182.53,70.24 L183.07,68.27 L183.63,66.30 L184.21,64.35 L184.81,62.40 L185.43,60.46 L186.09,58.53 L186.77,56.60 L187.48,54.67 L188.22,52.74 L189.00,50.82 L189.82,48.89 L190.68,46.97 L191.60,45.07 L192.60,43.23 L193.71,41.48 L194.95,39.84 L196.35,38.36 L197.93,37.05 L199.71,35.98 L201.62,35.32 L203.57,35.30 L205.48,35.95 L207.30,37.06 L208.97,38.40 L210.47,39.86 L211.82,41.43 L213.05,43.08 L214.17,44.80 L215.21,46.57 L216.20,48.38 L217.15,50.21 L218.09,52.05 L219.03,53.89 L219.95,55.74 L220.87,57.58 L221.78,59.43 L222.68,61.28 L223.58,63.13 L224.46,64.99 L225.35,66.85 L226.23,68.71 L227.10,70.57 L227.96,72.43 L228.82,74.30 L229.68,76.17 L230.53,78.04 L231.38,79.91 L232.22,81.79 L233.06,83.66 L233.89,85.54 L234.72,87.42 L235.55,89.31 L236.38,91.19 L237.20,93.08 L238.02,94.96 L238.84,96.85 L239.67,98.74 L240.49,100.62 L241.32,102.51 L242.16,104.39 L243.00,106.27 L243.84,108.15 L244.70,110.02 L245.56,111.89 L246.44,113.75 L247.32,115.61 L248.22,117.46 L249.13,119.31 L250.06,121.15 L251.00,122.98 L251.96,124.80 L252.94,126.61 L253.93,128.41 L254.94,130.21 L255.98,131.99 L257.03,133.76 L258.10,135.52 L259.19,137.26 L260.30,138.99 L261.44,140.71 L262.60,142.41 L263.78,144.09 L264.98,145.76 L266.20,147.41 L267.45,149.05 L268.72,150.67 L270.01,152.27 L271.31,153.87 L272.62,155.45 L273.95,157.03 L275.29,158.59 L276.63,160.15 L277.98,161.71 L279.34,163.26 L280.69,164.81 L282.05,166.36 L283.40,167.90 L284.77,169.44 L286.14,170.98 L287.52,172.50 L288.91,174.02 L290.31,175.52 L291.73,177.01 L293.16,178.49 L294.61,179.96 L296.08,181.41 L297.57,182.84 L299.08,184.24 L300.61,185.62 L302.17,186.97 L303.75,188.28 L305.36,189.55 L307.00,190.79 L308.66,191.99 L310.35,193.16 L312.05,194.30 L313.77,195.42 L315.51,196.52 L317.25,197.60 L319.01,198.68 L320.77,199.74 L322.54,200.80 L324.31,201.86 L326.08,202.92 L327.85,203.99 L329.63,205.04 L331.41,206.10 L333.19,207.15 L334.97,208.19 L336.76,209.22 L338.56,210.24 L340.36,211.25 L342.17,212.24 L343.98,213.21 L345.81,214.17 L347.64,215.11 L349.48,216.03 L351.33,216.92 L353.19,217.79 L355.06,218.64 L356.95,219.45 L358.84,220.24 L360.75,220.99 L362.67,221.71 L364.60,222.40 L366.54,223.07 L368.49,223.71 L370.45,224.32 L372.42,224.92 L374.40,225.50 L376.38,226.06 L378.37,226.60 L380.36,227.14 L382.36,227.66 L384.36,228.18 L386.36,228.69 L388.36,229.19 L390.36,229.70 L392.37,230.20 L394.37,230.71 L396.36,231.22 L398.36,231.74 L400.35,232.27 L402.33,232.81 L404.31,233.36 L406.29,233.91 L408.27,234.46 L410.25,235.00 L412.23,235.53 L414.21,236.05 L416.20,236.56 L418.19,237.05 L420.20,237.51 L422.20,237.95 L424.22,238.37 L426.23,238.78 L428.26,239.17 L430.28,239.54 L432.31,239.91 L434.34,240.27 L436.37,240.62 L438.40,240.97 L440.43,241.32 L442.46,241.66 L444.49,242.00 L446.52,242.34 L448.56,242.67 L450.59,242.99 L452.62,243.31 L454.66,243.63 L456.69,243.93 L458.73,244.24 L460.76,244.53 L462.80,244.82 L464.84,245.10 L466.88,245.37 L468.92,245.64 L470.96,245.89 L473.00,246.14 L475.04,246.37 L477.09,246.60 L479.13,246.82 L481.18,247.04 L483.23,247.25 L485.27,247.46 L487.32,247.67 L489.37,247.88 L491.42,248.09 L493.46,248.30 L495.51,248.52 L497.56,248.75 L499.60,248.98 L501.65,249.22 L503.69,249.47 L505.73,249.73 L507.77,250.00 L509.81,250.29 L511.84,250.59 L513.88,250.91 L515.91,251.24 L517.94,251.57 L519.97,251.90 L522.00,252.24 L524.03,252.57 L526.07,252.89 L528.10,253.20 L530.14,253.50 L532.17,253.78 L534.21,254.05 L536.26,254.30 L538.30,254.53 L540.35,254.76 L542.39,254.97 L544.44,255.17 L546.49,255.37 L548.54,255.56 L550.59,255.74 L552.64,255.91 L554.69,256.08 L556.74,256.25 L558.80,256.42 L560.85,256.58 L562.90,256.75 L564.95,256.91 L567.00,257.08 L569.06,257.24 L571.11,257.40 L573.16,257.57 L575.21,257.73 L577.26,257.89 L579.32,258.05 L581.37,258.21 L583.42,258.37 L585.47,258.53 L587.53,258.69 L589.58,258.85 L591.63,259.00 L593.68,259.16 L595.73,259.31 L597.79,259.47 L599.84,259.62 L601.89,259.77 L603.94,259.92 L606.00,260.07 L608.05,260.22 L610.10,260.37 L612.15,260.51 L614.21,260.66 L616.26,260.80 L618.31,260.94 L620.37,261.08 L622.42,261.22 L624.47,261.36 L626.53,261.50 L628.58,261.64 L630.63,261.77 L632.69,261.91 L634.74,262.04 L636.79,262.17 L638.85,262.30 L640.90,262.43 L642.95,262.56 L645.01,262.68 L647.06,262.81 L649.12,262.93 L651.17,263.05 L653.22,263.18 L655.28,263.30 L657.33,263.42 L659.39,263.54 L661.44,263.65 L663.50,263.77 L665.55,263.88 L667.61,264.00 L669.66,264.11 L671.72,264.22 L673.77,264.33 L675.83,264.44 L677.88,264.55 L679.94,264.66 L681.99,264.77 L684.05,264.87 L686.10,264.98 L688.16,265.08 L690.21,265.18 L692.27,265.28 L694.32,265.38 L696.38,265.48 L698.43,265.58 L700.49,265.68 L702.55,265.78 L704.60,265.87 L706.66,265.97 L708.71,266.06 L710.77,266.15 L712.83,266.24 L714.88,266.33 L716.94,266.42 L718.99,266.51 L721.05,266.60 L723.11,266.69 L725.16,266.77 L727.22,266.86 L729.27,266.94 L731.33,267.03 L733.39,267.11 L735.44,267.19 L737.50,267.27 L739.56,267.35 L741.61,267.43 L743.67,267.51 L745.73,267.59 L747.78,267.67 L749.84,267.75 L751.90,267.82 L753.95,267.90 L756.01,267.97 L758.07,268.05 L760.12,268.12 L762.18,268.20 L764.24,268.27 L766.29,268.34 L768.35,268.41 L770.41,268.49 L772.46,268.56 L774.52,268.63 L776.58,268.70 L778.63,268.77 L780.69,268.84 L782.75,268.91 L784.81,268.98 L786.86,269.05 L788.92,269.12 L790.98,269.19 L793.03,269.26 L795.09,269.33 L797.15,269.40 L799.20,269.47 L801.26,269.54 L803.32,269.61 L805.37,269.68 L807.43,269.75 L809.49,269.82 L811.54,269.89 L813.60,269.96 L815.66,270.03 L817.71,270.10 L819.77,270.17 L821.83,270.24 L823.88,270.31 L825.94,270.38 L828.00,270.45" fill="none" stroke="#800080" stroke-width="3.2" stroke-dasharray="4 3.3"/>
</g>
<g stroke="#000" fill="none">
<path d="M102.3,0V450.15000000000003" stroke-width="1.7"/>
<path d="M828.05,0V450.15000000000003" stroke-width="2.1"/>
<path d="M101.45,449.35H829.0999999999999" stroke-width="1.6"/>
<path d="M101.45,0.65H829.0999999999999" stroke-width="2"/>
<path d="M116.90,449.35v-6.3M116.90,0.65v6.3M138.32,449.35v-3.8M138.32,0.65v3.8M159.74,449.35v-3.8M159.74,0.65v3.8M181.16,449.35v-3.8M181.16,0.65v3.8M202.58,449.35v-3.8M202.58,0.65v3.8M224.00,449.35v-6.3M224.00,0.65v6.3M245.42,449.35v-3.8M245.42,0.65v3.8M266.84,449.35v-3.8M266.84,0.65v3.8M288.26,449.35v-3.8M288.26,0.65v3.8M309.68,449.35v-3.8M309.68,0.65v3.8M331.10,449.35v-6.3M331.10,0.65v6.3M352.52,449.35v-3.8M352.52,0.65v3.8M373.94,449.35v-3.8M373.94,0.65v3.8M395.36,449.35v-3.8M395.36,0.65v3.8M416.78,449.35v-3.8M416.78,0.65v3.8M438.20,449.35v-6.3M438.20,0.65v6.3M459.62,449.35v-3.8M459.62,0.65v3.8M481.04,449.35v-3.8M481.04,0.65v3.8M502.46,449.35v-3.8M502.46,0.65v3.8M523.88,449.35v-3.8M523.88,0.65v3.8M545.30,449.35v-6.3M545.30,0.65v6.3M566.72,449.35v-3.8M566.72,0.65v3.8M588.14,449.35v-3.8M588.14,0.65v3.8M609.56,449.35v-3.8M609.56,0.65v3.8M630.98,449.35v-3.8M630.98,0.65v3.8M652.40,449.35v-6.3M652.40,0.65v6.3M673.82,449.35v-3.8M673.82,0.65v3.8M695.24,449.35v-3.8M695.24,0.65v3.8M716.66,449.35v-3.8M716.66,0.65v3.8M738.08,449.35v-3.8M738.08,0.65v3.8M759.50,449.35v-6.3M759.50,0.65v6.3M780.92,449.35v-3.8M780.92,0.65v3.8M802.34,449.35v-3.8M802.34,0.65v3.8M823.76,449.35v-3.8M823.76,0.65v3.8M102.3,440.28h3.8M828.05,440.28h-3.8M102.3,422.26h3.8M828.05,422.26h-3.8M102.3,404.23h6.0M828.05,404.23h-6.0M102.3,386.20h3.8M828.05,386.20h-3.8M102.3,368.18h3.8M828.05,368.18h-3.8M102.3,350.15h3.8M828.05,350.15h-3.8M102.3,332.13h3.8M828.05,332.13h-3.8M102.3,314.10h6.0M828.05,314.10h-6.0M102.3,296.07h3.8M828.05,296.07h-3.8M102.3,278.05h3.8M828.05,278.05h-3.8M102.3,260.02h3.8M828.05,260.02h-3.8M102.3,242.00h3.8M828.05,242.00h-3.8M102.3,223.97h6.0M828.05,223.97h-6.0M102.3,205.94h3.8M828.05,205.94h-3.8M102.3,187.92h3.8M828.05,187.92h-3.8M102.3,169.89h3.8M828.05,169.89h-3.8M102.3,151.87h3.8M828.05,151.87h-3.8M102.3,133.84h6.0M828.05,133.84h-6.0M102.3,115.81h3.8M828.05,115.81h-3.8M102.3,97.79h3.8M828.05,97.79h-3.8M102.3,79.76h3.8M828.05,79.76h-3.8M102.3,61.74h3.8M828.05,61.74h-3.8M102.3,43.71h6.0M828.05,43.71h-6.0M102.3,25.68h3.8M828.05,25.68h-3.8M102.3,7.66h3.8M828.05,7.66h-3.8" stroke-width="1.2"/>
</g>
<g font-size="31.6" text-anchor="middle">
<text transform="translate(116.5,484.4) scale(1,1.035)">0</text>
<text transform="translate(223.6,484.4) scale(1,1.035)">1</text>
<text transform="translate(330.7,484.4) scale(1,1.035)">2</text>
<text transform="translate(437.8,484.4) scale(1,1.035)">3</text>
<text transform="translate(544.9,484.4) scale(1,1.035)">4</text>
<text transform="translate(652.0,484.4) scale(1,1.035)">5</text>
<text transform="translate(759.1,484.4) scale(1,1.035)">6</text>
</g>
<g font-size="31.6" text-anchor="end">
<text transform="translate(97.6,415.2) scale(1,1.035)">0.9</text>
<text transform="translate(97.6,325.1) scale(1,1.035)">1.0</text>
<text transform="translate(97.6,235.0) scale(1,1.035)">1.1</text>
<text transform="translate(97.6,144.8) scale(1,1.035)">1.2</text>
<text transform="translate(97.6,54.7) scale(1,1.035)">1.3</text>
</g>
<text transform="translate(411.9,533.4) scale(1,1.035)" font-size="31.6" xml:space="preserve">p [GeV]</text>
<g transform="translate(35.4,293.3) rotate(-90)" font-size="31.6"><text transform="scale(1.04,1.09)" font-style="italic">G</text><text x="24.4" y="-16.25" font-size="24.6" textLength="49.3" lengthAdjust="spacingAndGlyphs">CCA</text><text x="74.7" y="0">(p,0)</text></g>
<g fill="none">
<path d="M229.4,308.2H285.2" stroke="#ff0000" stroke-width="2.2"/>
<path d="M229.2,360.4H285.2" stroke="#0000ff" stroke-width="2.3" stroke-dasharray="4 1.78"/>
<path d="M229.2,412.2H285.2" stroke="#800080" stroke-width="2.3" stroke-dasharray="4 3.3"/>
</g>
<g font-size="29.3" xml:space="preserve">
<text transform="translate(302.3,314.0) scale(1,1.035)" textLength="58.8" lengthAdjust="spacingAndGlyphs">RGZ</text>
<text transform="translate(301.5,366.0) scale(1,1.035)">CF − 1 loop</text>
<text transform="translate(301.5,417.9) scale(1,1.035)">CF − 2 loop</text>
</g>
</svg></div></body></html>
